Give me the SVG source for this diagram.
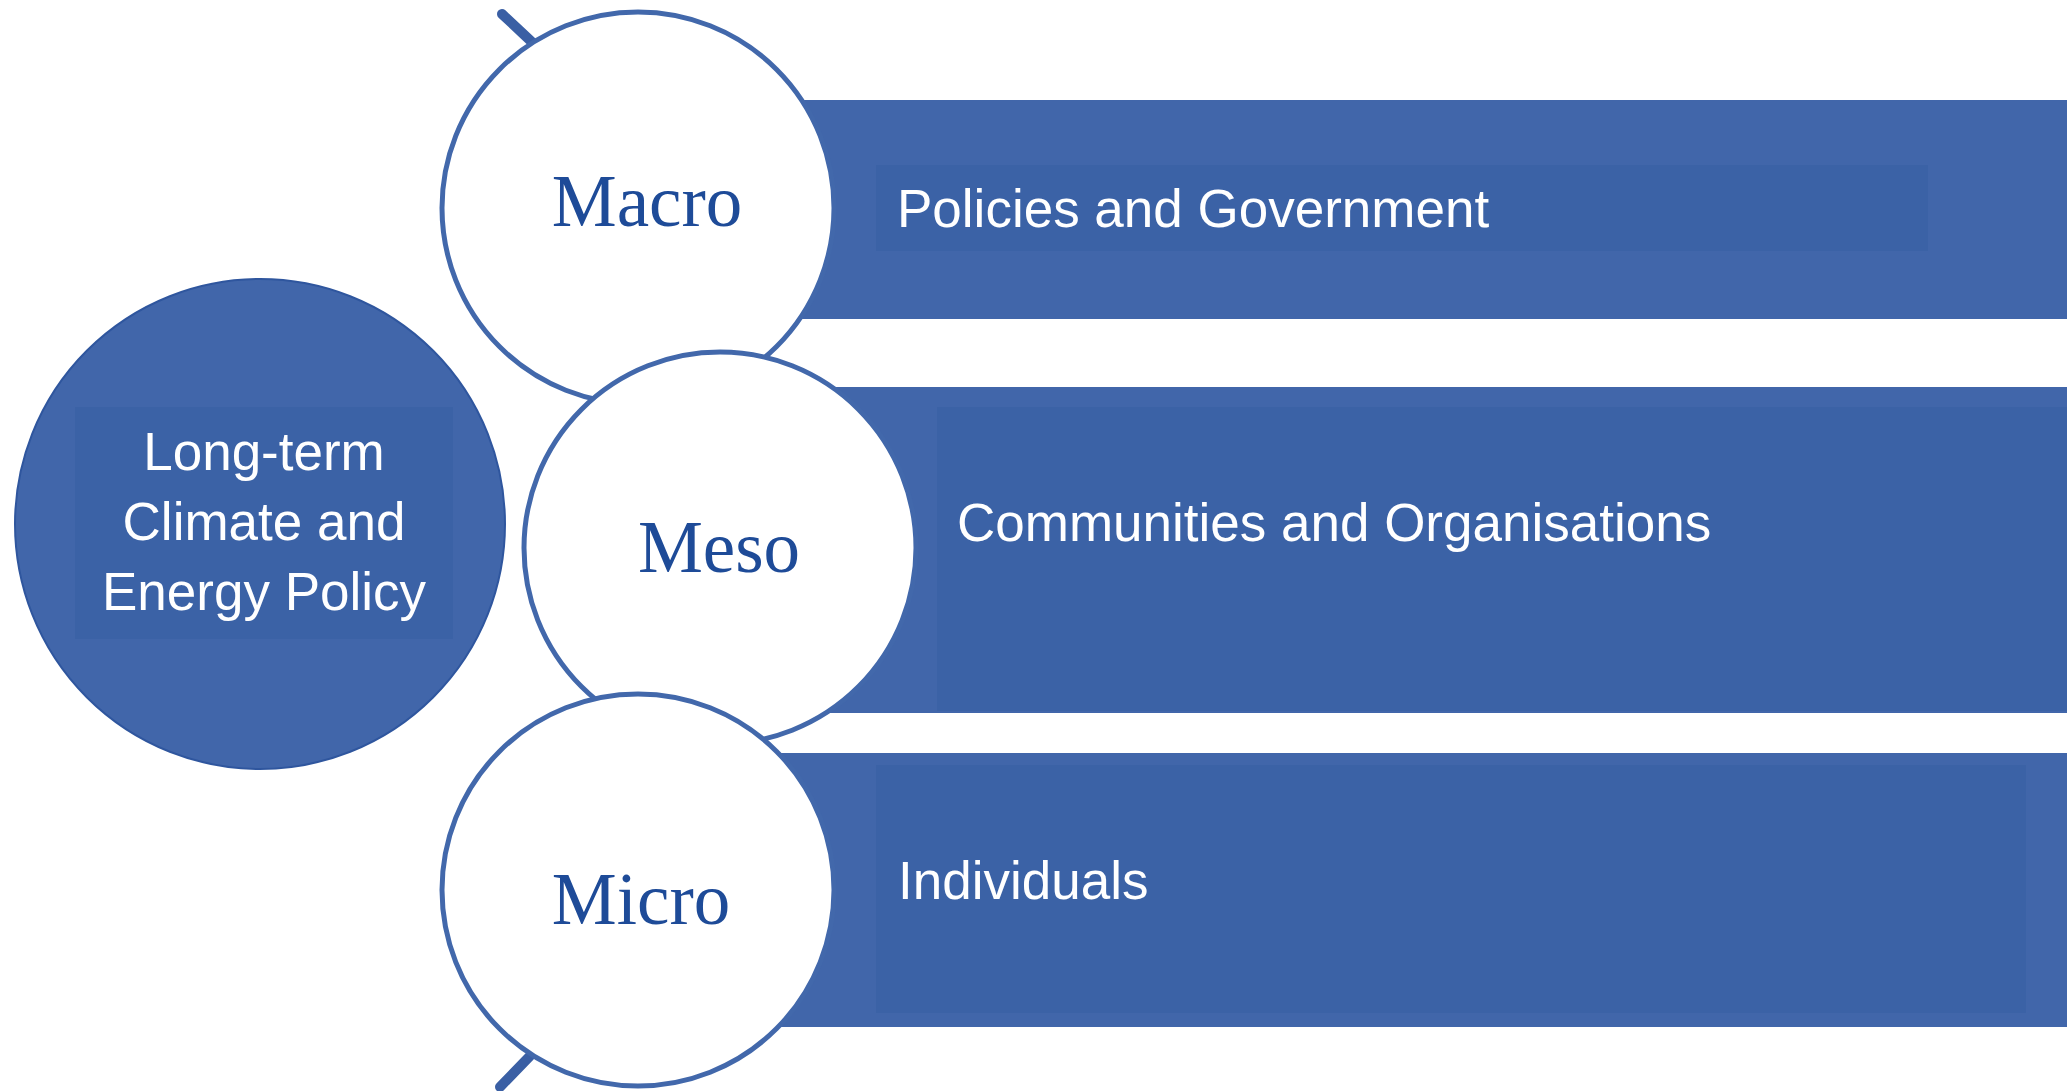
<svg xmlns="http://www.w3.org/2000/svg" width="2067" height="1091" viewBox="0 0 2067 1091">
  <style>
    .bar { fill: #4166AA; }
    .inner { fill: #3B62A6; }
    .lvl { fill: #FFFFFF; stroke: #4268AB; stroke-width: 5; }
    .lvltxt { font-family: "Liberation Serif", "Times New Roman", serif; font-size: 73px; fill: #1E4B98; text-anchor: middle; }
    .bartxt { font-family: "Liberation Sans", Arial, sans-serif; font-size: 53px; fill: #FFFFFF; }
    .maintxt { font-family: "Liberation Sans", Arial, sans-serif; font-size: 53px; fill: #FFFFFF; text-anchor: middle; }
    .tick { stroke: #3A5FA4; stroke-width: 10; stroke-linecap: round; fill: none; }
  </style>
  <rect x="0" y="0" width="2067" height="1091" fill="#FFFFFF"/>

  <g id="connectors">
    <line class="tick" x1="502" y1="14" x2="534" y2="44"/>
    <line class="tick" x1="530" y1="1056" x2="500" y2="1087"/>
  </g>

  <g id="bar-macro">
    <rect class="bar" x="637" y="100" width="1430" height="219"/>
    <rect class="inner" x="876" y="165" width="1052" height="86"/>
    <text class="bartxt" x="897" y="227">Policies and Government</text>
  </g>
  <g id="bar-meso">
    <rect class="bar" x="720" y="387" width="1347" height="326"/>
    <rect class="inner" x="937" y="407" width="1130" height="304"/>
    <text class="bartxt" x="957" y="541">Communities and Organisations</text>
  </g>
  <g id="bar-micro">
    <rect class="bar" x="637" y="753" width="1430" height="274"/>
    <rect class="inner" x="876" y="765" width="1150" height="248"/>
    <text class="bartxt" x="898" y="899">Individuals</text>
  </g>

  <g id="node-policy">
    <circle cx="260" cy="524" r="245" fill="#4166AA" stroke="#2F569E" stroke-width="2"/>
    <rect class="inner" x="75" y="407" width="378" height="232"/>
    <text class="maintxt" x="264" y="470">Long-term</text>
    <text class="maintxt" x="264" y="540">Climate and</text>
    <text class="maintxt" x="264" y="610">Energy Policy</text>
  </g>

  <g id="node-macro">
    <circle class="lvl" cx="638" cy="208" r="196"/>
    <text class="lvltxt" x="647" y="226">Macro</text>
  </g>
  <g id="node-meso">
    <circle class="lvl" cx="720" cy="548" r="196"/>
    <text class="lvltxt" x="719" y="572">Meso</text>
  </g>
  <g id="node-micro">
    <circle class="lvl" cx="638" cy="890" r="196"/>
    <text class="lvltxt" x="641" y="924">Micro</text>
  </g>
</svg>
